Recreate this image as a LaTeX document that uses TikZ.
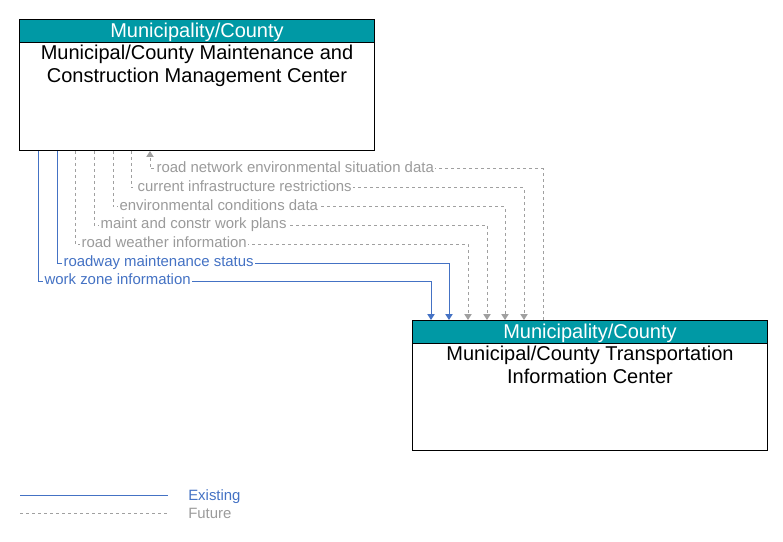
\documentclass[tikz,border=0pt]{standalone}
\usepackage{fontspec}
\setmainfont{Liberation Sans}
\usetikzlibrary{arrows.meta,calc}
\definecolor{hdr}{RGB}{0,153,165}
\definecolor{exist}{RGB}{68,114,196}
\definecolor{fut}{RGB}{160,160,160}
\definecolor{futtxt}{RGB}{155,155,155}
\begin{document}
\begin{tikzpicture}[x=0.75pt,y=-0.75pt,
  boxbody/.style={draw=black, line width=0.75pt, fill=white, anchor=north west, inner sep=0pt, minimum width=266.25pt},
  hdrbox/.style={draw=black, line width=0.75pt, fill=hdr, text=white, font=\fontsize{15}{17}\selectfont, anchor=north west, inner sep=0pt, minimum width=266.25pt, minimum height=16.9pt, text height=10.6pt, text depth=0pt},
  bodytext/.style={anchor=north, align=center, inner sep=0pt, font=\fontsize{15}{17}\selectfont},
  ex/.style={draw=exist, line width=0.75pt},
  fu/.style={draw=fut, line width=0.75pt, dash pattern=on 2.25pt off 2.25pt},
  tip/.style={-{Triangle[width=5.5pt,length=4.5pt]}},
  lbl/.style={fill=white, inner xsep=1pt, inner ysep=0.5pt, anchor=west, text height=8.2pt, text depth=2.4pt, font=\fontsize{11.2}{13}\selectfont},
  legtext/.style={anchor=base west, inner sep=0pt, font=\fontsize{11.2}{13}\selectfont}
]
\useasboundingbox (0,0) rectangle (783,542);

% top box
\node[boxbody, minimum height=98.25pt] (mcm) at (19,19) {};
\node[hdrbox] (mcmh) at (19,19) {Municipality/County};
\node[bodytext, yshift=-1.8pt] (mcmt) at (mcmh.south) {Municipal/County Maintenance and\\Construction Management Center};

% bottom box
\node[boxbody, minimum height=97.5pt] (tic) at (412,320) {};
\node[hdrbox] (tich) at (412,320) {Municipality/County};
\node[bodytext, yshift=-1.6pt] (tict) at (tich.south) {Municipal/County Transportation\\Information Center};

% end points
\foreach \i/\xt/\xb in {1/38/431, 2/57/449, 3/75/468, 4/94/487, 5/113/505, 6/131/524, 7/150/543} {
  \coordinate (a\i) at ($(mcm.south west)+(\xt-19,0)$);
  \coordinate (b\i) at ($(tic.north west)+(\xb-412,0)$);
}

% flows
\draw[ex,tip] (a1) -- (a1 |- 0,281) -- (b1 |- 0,281) -- (b1);
\node[lbl, text=exist] (l1) at ($(a1 |- 0,281)+(5,0)$) {work zone information};
\draw[ex,tip] (a2) -- (a2 |- 0,263) -- (b2 |- 0,263) -- (b2);
\node[lbl, text=exist] (l2) at ($(a2 |- 0,263)+(5,0)$) {roadway maintenance status};
\draw[fu,tip] (a3) -- (a3 |- 0,244) -- (b3 |- 0,244) -- (b3);
\node[lbl, text=futtxt] (l3) at ($(a3 |- 0,244)+(5,0)$) {road weather information};
\draw[fu,tip] (a4) -- (a4 |- 0,225) -- (b4 |- 0,225) -- (b4);
\node[lbl, text=futtxt] (l4) at ($(a4 |- 0,225)+(5,0)$) {maint and constr work plans};
\draw[fu,tip] (a5) -- (a5 |- 0,207) -- (b5 |- 0,207) -- (b5);
\node[lbl, text=futtxt] (l5) at ($(a5 |- 0,207)+(5,0)$) {environmental conditions data};
\draw[fu,tip] (a6) -- (a6 |- 0,188) -- (b6 |- 0,188) -- (b6);
\node[lbl, text=futtxt] (l6) at ($(a6 |- 0,188)+(5,0)$) {current infrastructure restrictions};
\draw[fu,tip] (b7) -- (b7 |- 0,169) -- (a7 |- 0,169) -- (a7);
\node[lbl, text=futtxt] (l7) at ($(a7 |- 0,169)+(5,0)$) {road network environmental situation data};

% legend
\coordinate (le1) at (20,495);
\coordinate (le2) at (168,495);
\coordinate (lf1) at (20,513);
\coordinate (lf2) at (168,513);
\draw[ex] (le1) -- (le2);
\draw[fu] (lf1) -- (lf2);
\node[legtext, text=exist] (lex) at (188,500.3) {Existing};
\node[legtext, text=futtxt] (lfu) at (188,518.3) {Future};
\end{tikzpicture}
\end{document}
